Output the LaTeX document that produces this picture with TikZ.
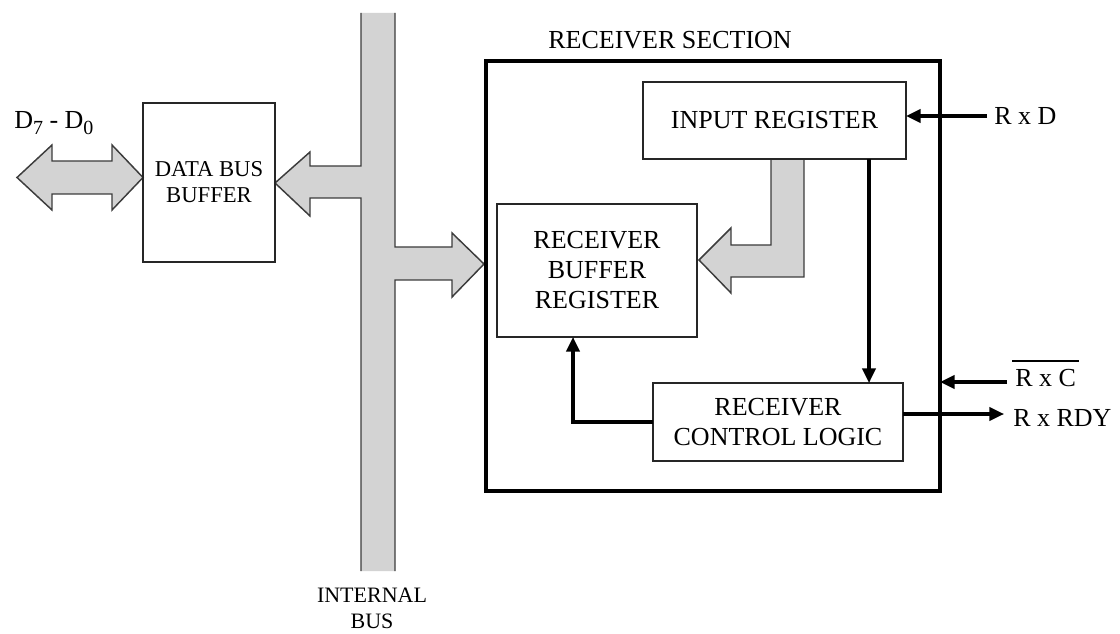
\documentclass[tikz,border=0pt]{standalone}
\usepackage{fontspec}
\setmainfont{Liberation Serif}
\usetikzlibrary{arrows.meta}
\definecolor{busgray}{RGB}{211,211,211}
\definecolor{edgegray}{RGB}{60,60,60}
\begin{document}
\begin{tikzpicture}[x=0.75pt,y=-0.75pt,
  box/.style={draw=black!85, line width=1.1pt, inner sep=0pt, outer sep=0pt, align=center, font=\fontsize{19.5}{22.5}\selectfont},
  smallbox/.style={box, font=\fontsize{17}{19.5}\selectfont},
  outerbox/.style={draw=black, line width=2.3pt, inner sep=0pt, outer sep=0pt},
  sig/.style={line width=2.3pt, -{Triangle[length=11pt,width=10pt]}},
  overbar/.style={line width=1pt},
  busfill/.style={fill=busgray, draw=none},
  busedge/.style={draw=edgegray, line width=1.1pt, line join=miter},
  lbl/.style={inner sep=0pt, font=\fontsize{19.5}{22.5}\selectfont},
  smalllbl/.style={inner sep=0pt, align=center, font=\fontsize{16.5}{19.5}\selectfont}
]
\useasboundingbox (0,0) rectangle (1120,634);

% ---- gray bus with branches ----
\fill[busfill] (361,13) -- (361,166) -- (310,166) -- (310,152) -- (275,183) -- (310,216) -- (310,198) -- (361,198) -- (361,571)
  -- (395,571) -- (395,280) -- (452,280) -- (452,297) -- (484,264) -- (452,233) -- (452,247) -- (395,247) -- (395,13) -- cycle;
\draw[busedge] (361,13) -- (361,166) -- (310,166) -- (310,152) -- (275,183) -- (310,216) -- (310,198) -- (361,198) -- (361,571);
\draw[busedge] (395,571) -- (395,280) -- (452,280) -- (452,297) -- (484,264) -- (452,233) -- (452,247) -- (395,247) -- (395,13);

% ---- double arrow D7-D0 ----
\draw[busedge, fill=busgray] (17,177.5) -- (52,145) -- (52,161) -- (112,161) -- (112,145) -- (143,177.5) -- (112,210) -- (112,194) -- (52,194) -- (52,210) -- cycle;

% ---- L-shaped gray arrow ----
\fill[busfill] (771,159) -- (771,245) -- (731,245) -- (731,228) -- (699,260) -- (731,293) -- (731,277) -- (804,277) -- (804,159) -- cycle;
\draw[busedge] (771,159) -- (771,245) -- (731,245) -- (731,228) -- (699,260) -- (731,293) -- (731,277) -- (804,277) -- (804,159);

% ---- boxes ----
\node[outerbox, minimum width=340.5pt, minimum height=322.5pt] (recsec) at (713,276) {};
\node[smallbox, minimum width=99pt, minimum height=119.25pt] (dbb) at (209,182.5) {DATA BUS\\BUFFER};
\node[box, minimum width=197.25pt, minimum height=57.75pt] (inreg) at (774.5,120.5) {INPUT REGISTER};
\node[box, minimum width=150pt, minimum height=99.75pt] (rbr) at (597,270.5) {RECEIVER\\BUFFER\\REGISTER};
\node[box, minimum width=187.5pt, minimum height=58.5pt] (rcl) at (778,422) {RECEIVER\\CONTROL LOGIC};

% ---- labels ----
\node[lbl] (sectitle) at (670,40) {RECEIVER SECTION};
\node[lbl, anchor=west] (dlbl) at (14,123) {D\raisebox{-0.45ex}{\fontsize{15}{15}\selectfont 7} - D\raisebox{-0.45ex}{\fontsize{15}{15}\selectfont 0}};
\node[smalllbl] (ibus) at (372,608) {INTERNAL\\BUS};
\node[lbl, anchor=west] (rxdl) at (994,116) {R x D};
\node[lbl, anchor=west] (rxcl) at (1015,378) {R x C};
\draw[overbar] ([xshift=-2pt,yshift=6pt]rxcl.north west) -- ([xshift=2pt,yshift=6pt]rxcl.north east);
\node[lbl, anchor=west] (rxrdyl) at (1013,418) {R x RDY};

% ---- signal connectors ----
\coordinate (rxdstart) at (987,116);
\draw[sig] (rxdstart) -- (rxdstart -| inreg.east);
\coordinate (vx) at (869,0);
\draw[sig] (vx |- inreg.south) -- (vx |- rcl.north);
\coordinate (rxcstart) at (1007,382);
\draw[sig] (rxcstart) -- (rxcstart -| recsec.east);
\coordinate (rxrdyend) at (1004,414);
\draw[sig] (rxrdyend -| rcl.east) -- (rxrdyend);
\coordinate (fbx) at (573,0);
\draw[sig] (rcl.west) -| (fbx |- rbr.south);
\end{tikzpicture}
\end{document}
